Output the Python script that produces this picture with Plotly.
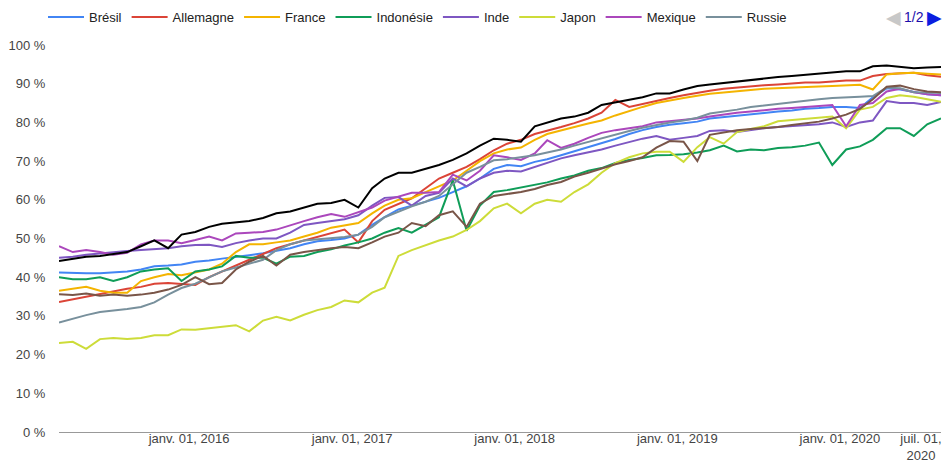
import pandas as pd
import plotly.graph_objects as go

# une valeur par mois (le 15), de mars 2015 à août 2020
dates = pd.date_range(start="2015-03-01", periods=66, freq="MS") + pd.Timedelta(days=14)

bresil = [41.2, 41, 41, 41, 41.2, 41.5, 42, 42.8, 43, 43.3, 44, 44.3, 44.8, 45.2, 45.7, 46.2,
          46.8, 47.5, 48.5, 49.3, 49.6, 50, 51, 53.5, 55.5, 57.5, 58.5, 59.5, 60.5, 62, 63.5, 65.5,
          68, 69, 68.7, 69.8, 70.5, 71.5, 72.5, 73.7, 74.5, 75.7, 77, 78, 78.8, 79.4, 79.8, 80.2,
          81, 81.4, 81.8, 82.1, 82.4, 82.8, 83.1, 83.5, 83.7, 84, 84, 83.7, 86.5, 88.8, 88.5, 87.8,
          87.3, 87]
allemagne = [33.6, 34.3, 35, 35.7, 36.3, 37, 37.5, 38.3, 38.5, 38.3, 38, 40, 41.5, 43, 44.5, 46,
             47.5, 48.5, 49.5, 50.3, 51.3, 52.3, 49, 54.5, 57.4, 59, 60.4, 63, 65.5, 67, 68.5, 70.5,
             72.8, 74.5, 75.5, 77, 77.8, 78.8, 79.8, 81, 82.5, 85.8, 84, 84.8, 85.6, 86.3, 87, 87.7,
             88.2, 88.7, 89, 89.4, 89.6, 89.8, 90, 90.3, 90.3, 90.5, 90.8, 90.8, 92, 92.5, 92.6, 92.8,
             92.2, 91.8]
france = [36.5, 37, 37.5, 36.5, 36, 36, 39, 40, 40.8, 40.5, 41.2, 42, 43.5, 46.5, 48.5, 48.5,
          49, 49.5, 50.5, 51.5, 52.8, 53.3, 54, 56.5, 58.5, 60, 60.4, 62, 63.5, 65, 67.5, 70,
          72, 73, 73.5, 75.5, 77, 78, 78.8, 79.7, 80.5, 81.8, 83, 84, 85, 85.7, 86.3, 86.9,
          87.4, 87.7, 88.1, 88.4, 88.7, 88.9, 89.1, 89.2, 89.3, 89.4, 89.6, 89.7, 88.5, 92.4, 92.7, 92.8,
          92.6, 92.4]
indonesie = [40, 39.5, 39.5, 40, 39, 40, 41.5, 42, 42.3, 39, 41.5, 42, 42.8, 45.5, 45, 45,
             43.5, 45.3, 45.5, 46.5, 47.2, 48.2, 49, 50, 51.5, 52.7, 51.5, 53.5, 55.5, 65, 52, 58.5,
             62, 62.5, 63.2, 64, 64.5, 65.5, 66.3, 67.5, 68.2, 69.5, 70.3, 70.8, 71.5, 71.6, 71.8, 72.2,
             72.8, 74, 72.5, 73, 72.8, 73.4, 73.6, 74, 74.8, 69, 73, 73.8, 75.5, 78.5, 78.5, 76.5,
             79.5, 81]
inde = [45, 45.3, 45.8, 46.2, 46.5, 46.8, 47, 47.3, 47.5, 48, 48.3, 48.4, 47.8, 48.8, 49.5, 50,
        50, 51.5, 53.5, 54, 54.5, 55, 56, 58.5, 60.5, 60.7, 58.5, 61, 61.8, 65.5, 63.5, 65.5,
        67, 67.5, 67.3, 68.5, 69.5, 70.7, 71.5, 72.3, 73, 74, 75, 75.8, 76.5, 75.5, 76, 76.5,
        77.8, 78, 77.5, 78, 78.5, 78.8, 79, 79.2, 79.5, 80, 78.8, 80, 80.5, 85.5, 85, 85,
        84.5, 85.3]
japon = [23, 23.3, 21.5, 24, 24.3, 24, 24.3, 25, 25, 26.5, 26.4, 26.8, 27.1, 27.6, 26, 28.8,
         29.8, 28.8, 30.3, 31.5, 32.3, 34, 33.5, 36, 37.3, 45.5, 47, 48.3, 49.5, 50.5, 52.2, 54.5,
         57.8, 59, 56.5, 59, 60, 59.5, 62, 64, 67, 69.5, 71, 72, 72.4, 72.4, 69.8, 73.6,
         76.2, 74.5, 77.5, 78.3, 79, 80.3, 80.6, 81, 81.3, 81.5, 78.5, 83.3, 84, 86.3, 87, 86.6,
         86, 85.3]
mexique = [48, 46.5, 47, 46.5, 45.8, 46.3, 48.5, 49.5, 49.5, 48.8, 49.6, 50.5, 49.5, 51.3, 51.5, 51.7,
           52.3, 53.5, 54.5, 55.5, 56.3, 55.6, 56.8, 58, 59.8, 60.8, 61.8, 61.8, 62, 66.5, 65, 67.5,
           71.5, 71, 70.3, 72, 75.4, 73.4, 74.5, 76, 77.3, 78, 78.5, 79, 80, 80.3, 80.6, 81,
           81.5, 82, 82.5, 82.8, 83.2, 83.5, 83.7, 84, 84.2, 84.5, 79, 84.5, 85, 88, 88.7, 87.8,
           87.3, 87]
russie = [28.3, 29.3, 30.2, 31, 31.3, 31.8, 32.3, 33.5, 35.5, 37.2, 38.3, 40, 41.5, 42.5, 43.5, 44.5,
          47, 48.5, 49.5, 49.8, 50.2, 50.4, 51, 53, 55.5, 57, 58.3, 59.5, 61, 64, 67, 68.5,
          70.2, 70.5, 71, 71.5, 72.2, 73, 74, 75, 76, 77, 77.8, 78.6, 79.3, 80, 80.5, 81.2,
          82.3, 82.8, 83.3, 84, 84.4, 84.8, 85.3, 85.7, 86, 86.3, 86.4, 86.6, 86.8, 89, 88.8, 87.8,
          87.7, 87.6]
# séries de la page 2 de la légende
turquie = [35.6, 35.4, 35.8, 35.2, 35.5, 35.2, 35.5, 36, 36.8, 38, 40, 38.2, 38.5, 42, 44, 45.5,
           43, 45.8, 46.5, 47, 47.5, 47.8, 47.5, 49, 50.5, 51.5, 54, 53.2, 56, 57, 53, 59,
           61, 61.5, 62, 62.8, 63.8, 64.6, 66, 67, 68, 69.2, 70, 71, 73.5, 75.2, 75, 70,
           76.8, 77.5, 78, 78.3, 78.5, 78.8, 79.3, 79.7, 80.2, 81, 82, 83.5, 86, 89.2, 89.5, 88.6,
           88, 87.8]
etats_unis = [44.2, 44.8, 45.3, 45.5, 46, 46.5, 48, 49.5, 47.5, 51, 51.7, 53, 53.8, 54.2, 54.5, 55.3,
              56.5, 57, 58, 59, 59.2, 60, 58, 63, 65.5, 67, 67, 68, 69, 70.3, 72, 74,
              75.8, 75.5, 75, 79, 80, 81, 81.5, 82.5, 84.5, 85.2, 85.8, 86.5, 87.5, 87.5, 88.5, 89.4,
              89.8, 90.2, 90.7, 91, 91.3, 91.7, 92, 92.3, 92.6, 93, 93.2, 93.2, 94.5, 94.7, 94.3, 94,
              94.2, 94.3]

series = [
    ("Brésil", bresil, "#4285f4", True),
    ("Allemagne", allemagne, "#db4437", True),
    ("France", france, "#f4b400", True),
    ("Indonésie", indonesie, "#0f9d58", True),
    ("Inde", inde, "#7e57c2", True),
    ("Japon", japon, "#cddc39", True),
    ("Mexique", mexique, "#ab47bc", True),
    ("Russie", russie, "#78909c", True),
    ("Turquie", turquie, "#795548", False),
    ("États-Unis", etats_unis, "#000000", False),
]

fig = go.Figure()
for nom, valeurs, couleur, visible in series:
    fig.add_trace(go.Scatter(x=dates, y=valeurs, name=nom, mode="lines",
                             line=dict(color=couleur, width=2), showlegend=visible))

fig.update_layout(
    width=942, height=461,
    margin=dict(l=59, r=1, t=45, b=29, autoexpand=False),
    paper_bgcolor="white", plot_bgcolor="white",
    font=dict(family="Liberation Sans, Arial, sans-serif", size=13, color="#444"),
    legend=dict(orientation="h", xref="container", x=43 / 942, xanchor="left",
                yref="paper", y=1.111, yanchor="top",
                font=dict(size=13, color="#222"), itemwidth=36),
    showlegend=True,
)
fig.update_xaxes(
    range=["2015-03-15", "2020-08-15"],
    tickvals=["2016-01-01", "2017-01-01", "2018-01-01", "2019-01-01", "2020-01-01", "2020-07-01"],
    ticktext=["janv. 01, 2016", "janv. 01, 2017", "janv. 01, 2018", "janv. 01, 2019",
              "janv. 01, 2020", "juil. 01,<br>2020"],
    showgrid=False, zeroline=False, showline=True, linecolor="#999", linewidth=1,
    ticks="", ticklabelstandoff=-6, automargin=False,
)
fig.update_yaxes(
    range=[0, 100], dtick=10, ticksuffix=" %",
    showgrid=False, zeroline=False, showline=False,
    ticks="outside", ticklen=10, tickcolor="rgba(0,0,0,0)", automargin=False,
)
# pagination de la légende (page 1 sur 2)
for px, texte, couleur, taille in [(893, "◀", "#c8c8c8", 19), (914, "1/2", "#1a0dab", 14),
                                   (934, "▶", "#0b1ee0", 19)]:
    fig.add_annotation(
        xref="paper", yref="paper", x=(px - 59) / 882, y=(432 - 17) / 387,
        xanchor="center", yanchor="middle", showarrow=False,
        text=texte, font=dict(size=taille, color=couleur),
    )

# la page a une marge de 8 px par défaut : on la retire
fig.write_html("out.html", config={"displayModeBar": False},
               post_script="document.body.style.margin='0';")
